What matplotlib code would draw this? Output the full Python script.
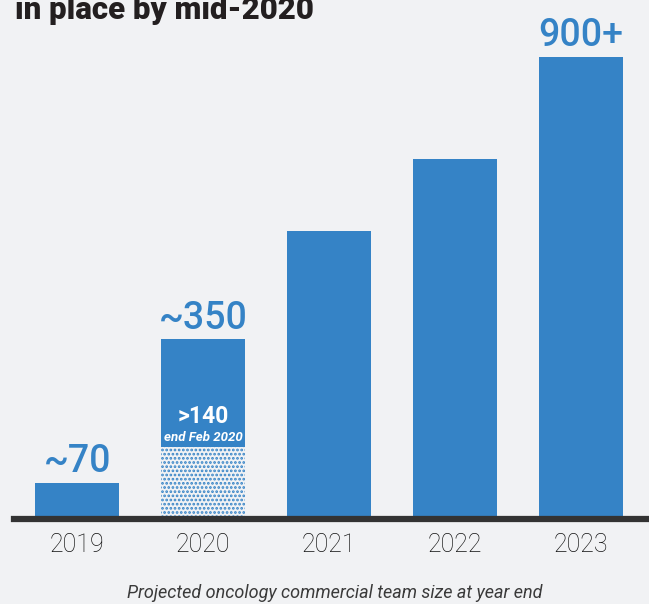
import matplotlib.pyplot as plt

years = ['2019', '2020', '2021', '2022', '2023']
team_size = [70, 350, 560, 700, 900]
value_labels = ['~70', '~350', '', '', '900+']
feb_2020 = 140

blue = '#3583c6'
bg = '#f1f2f4'

plt.rcParams['font.family'] = ['Roboto', 'DejaVu Sans']
plt.rcParams['hatch.color'] = blue
plt.rcParams['hatch.linewidth'] = 1.3

fig = plt.figure(figsize=(6.49, 6.04), dpi=100, facecolor=bg)
ax = fig.add_axes([14 / 649, 85 / 604, 1 - 14 / 649, 519 / 604])
ax.set_facecolor(bg)

x = range(len(years))
ax.bar(x, team_size, width=0.667, color=blue, zorder=2)

# dotted part of 2020: team already in place at end of February
ax.bar(1, feb_2020, width=0.667, color=bg, hatch='....', edgecolor=blue,
       linewidth=0, zorder=3)

for i, (v, lab) in enumerate(zip(team_size, value_labels)):
    if lab:
        ax.text(i, v + 5, lab, ha='center', va='bottom', color=blue,
                fontsize=27, fontweight='medium')

ax.text(1, feb_2020 + 38, '>140', ha='center', va='bottom', color='white',
        fontsize=16.5, fontweight='bold')
ax.text(1, feb_2020 + 6, 'end Feb 2020', ha='center', va='bottom', color='white',
        fontsize=9.5, fontweight='bold', style='italic')

ax.set_xlim(-0.504, 4.54)
ax.set_ylim(0, 1010)
ax.set_xticks(list(x))
ax.set_xticklabels(years, fontsize=18, color='#111111', fontweight='light')
ax.tick_params(axis='x', length=0, pad=10)
ax.set_yticks([])
for side in ['top', 'right', 'left']:
    ax.spines[side].set_visible(False)
ax.spines['bottom'].set_linewidth(4.5)
ax.spines['bottom'].set_color('#333333')
ax.spines['bottom'].set_zorder(4)

fig.text(15 / 649, 1 - 19 / 604, 'in place by mid-2020', ha='left', va='baseline',
         fontsize=22.5, fontweight='heavy', color='#231f20')
fig.text(335 / 649, 1 - 598 / 604, 'Projected oncology commercial team size at year end',
         ha='center', va='baseline', fontsize=13, style='italic',
         fontweight='normal', color='#3a3a3a')

fig.savefig('out.png', dpi=100, facecolor=bg)
